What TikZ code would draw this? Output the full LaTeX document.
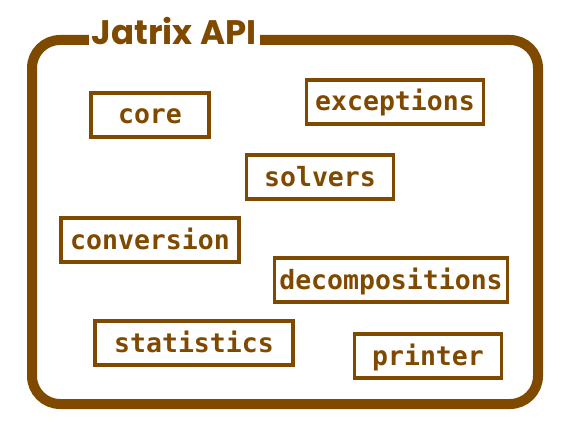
\documentclass[tikz,border=0pt]{standalone}
\usepackage{fontspec}
\setmonofont{DejaVu Sans Mono}
\newfontfamily\titlefont{Poppins}
\definecolor{jbrown}{RGB}{127,74,0}

\tikzset{
    apiframe/.style={draw=jbrown, line width=10pt, rounded corners=28pt, inner sep=0pt},
    apititle/.style={fill=white, text=jbrown, inner sep=0pt, anchor=base, font=\titlefont\bfseries\fontsize{34}{34}\selectfont},
    module/.style={draw=jbrown, line width=3.5pt, text=jbrown, inner sep=0pt, minimum height=44pt, text height=23pt, text depth=5pt, font=\ttfamily\bfseries\fontsize{26.5}{26.5}\selectfont}
}

\begin{document}
\begin{tikzpicture}[x=1pt, y=-1pt]
    \useasboundingbox (0,0) rectangle (570,441);

    \node[apiframe, minimum width=506pt, minimum height=364pt] (api) at (285,222) {};
    \node[apititle, minimum width=171pt] (title) at (174,45) {Jatrix API};

    \node[module, minimum width=118pt] (core)       at (150,115) {core};
    \node[module, minimum width=177pt] (exceptions) at (395,102) {exceptions};
    \node[module, minimum width=147pt] (solvers)    at (320,177) {solvers};
    \node[module, minimum width=178pt] (conversion) at (150,240) {conversion};
    \node[module, minimum width=233pt] (decomp)     at (391,280) {decompositions};
    \node[module, minimum width=198pt] (statistics) at (194,343) {statistics};
    \node[module, minimum width=147pt] (printer)    at (428,356) {printer};
\end{tikzpicture}
\end{document}
